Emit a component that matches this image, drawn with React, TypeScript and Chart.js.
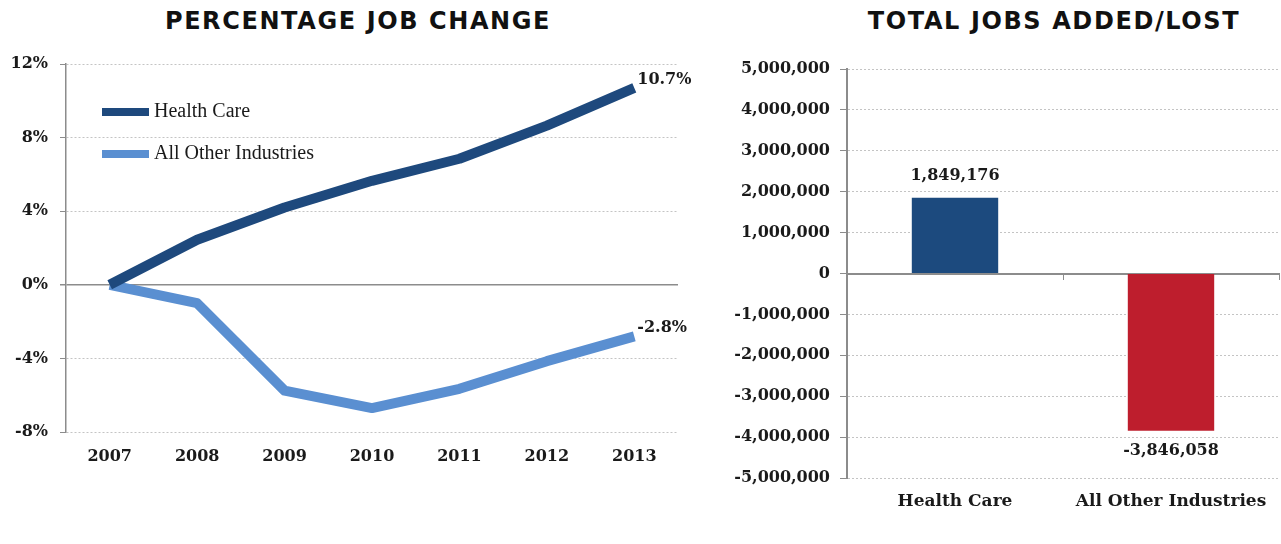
import React, { useEffect, useRef } from "react";
import { Chart, registerables } from "chart.js";

Chart.register(...registerables);

// ---------- data ----------
const years = ["2007", "2008", "2009", "2010", "2011", "2012", "2013"];
const seriesNames = ["Health Care", "All Other Industries"];
const healthCarePct = [0, 2.45, 4.2, 5.65, 6.85, 8.65, 10.7];
const otherIndustriesPct = [0, -1.0, -5.75, -6.7, -5.65, -4.15, -2.8];
const pctAxisMin = -8;
const pctAxisMax = 12;
const pctAxisStep = 4;

const barCategories = ["Health Care", "All Other Industries"];
const jobsAddedLost = [1849176, -3846058];
const jobsAxisMin = -5000000;
const jobsAxisMax = 5000000;
const jobsAxisStep = 1000000;

const titles = ["PERCENTAGE JOB CHANGE", "TOTAL JOBS ADDED/LOST"];

// ---------- styles ----------
const DARK_BLUE = "#1e497d";
const LIGHT_BLUE = "#5a8fd1";
const BAR_BLUE = "#1c4a7e";
const BAR_RED = "#be1e2d";
const TEXT = "#1a1a1a";
const AXIS_GRAY = "#8c8c8c";
const GRID_GRAY = "#c4c4c4";
const SERIF = "'DejaVu Serif', serif";
const LEGEND_SERIF = "'Liberation Serif', serif";

const lineDecor = {
  id: "lineDecor",
  afterDatasetsDraw(chart: any) {
    const { ctx, chartArea } = chart;
    ctx.save();
    // end-point labels
    chart.data.datasets.forEach((ds: any, i: number) => {
      const meta = chart.getDatasetMeta(i);
      const pt = meta.data[meta.data.length - 1];
      const v = ds.data[ds.data.length - 1];
      ctx.font = `bold 16px ${SERIF}`;
      ctx.fillStyle = TEXT;
      ctx.textAlign = "left";
      ctx.textBaseline = "middle";
      ctx.fillText(v.toFixed(1) + "%", pt.x + 3, pt.y - 8);
    });
    // legend inside plot
    chart.data.datasets.forEach((ds: any, i: number) => {
      const y = chartArea.top + 48 + i * 42;
      const x0 = chartArea.left + 36;
      ctx.strokeStyle = ds.borderColor;
      ctx.lineWidth = 8;
      ctx.lineCap = "butt";
      ctx.beginPath();
      ctx.moveTo(x0, y);
      ctx.lineTo(x0 + 47, y);
      ctx.stroke();
      ctx.font = `20px ${LEGEND_SERIF}`;
      ctx.fillStyle = TEXT;
      ctx.textAlign = "left";
      ctx.textBaseline = "middle";
      ctx.fillText(ds.label, x0 + 52, y);
    });
    ctx.restore();
  },
};

const barDecor = {
  id: "barDecor",
  afterDatasetsDraw(chart: any) {
    const { ctx } = chart;
    const meta = chart.getDatasetMeta(0);
    const values = chart.data.datasets[0].data;
    ctx.save();
    ctx.font = `bold 16px ${SERIF}`;
    ctx.fillStyle = TEXT;
    ctx.textAlign = "center";
    ctx.textBaseline = "middle";
    meta.data.forEach((bar: any, i: number) => {
      const v = values[i];
      const y = v >= 0 ? bar.y - 22 : bar.y + 20;
      ctx.fillText(v.toLocaleString("en-US"), bar.x, y);
    });
    ctx.restore();
  },
};

function LineChart() {
  const ref = useRef<HTMLCanvasElement>(null);
  useEffect(() => {
    const chart = new Chart(ref.current!, {
      type: "line",
      data: {
        labels: years,
        datasets: [
          {
            label: seriesNames[0],
            data: healthCarePct,
            borderColor: DARK_BLUE,
            backgroundColor: DARK_BLUE,
            borderWidth: 10,
            pointRadius: 0,
            tension: 0,
            borderJoinStyle: "round",
            borderCapStyle: "butt",
          },
          {
            label: seriesNames[1],
            data: otherIndustriesPct,
            borderColor: LIGHT_BLUE,
            backgroundColor: LIGHT_BLUE,
            borderWidth: 10,
            pointRadius: 0,
            tension: 0,
            borderJoinStyle: "round",
            borderCapStyle: "butt",
          },
        ],
      },
      options: {
        animation: false,
        responsive: true,
        maintainAspectRatio: false,
        layout: { padding: { top: 64, right: 22, bottom: 72, left: 0 } },
        plugins: { legend: { display: false }, tooltip: { enabled: false } },
        scales: {
          x: {
            offset: true,
            grid: { display: false, drawTicks: false, offset: true },
            border: { display: false },
            ticks: {
              font: { family: SERIF, size: 16, weight: "bold" },
              color: TEXT,
              padding: 15,
              maxRotation: 0,
            },
            afterFit: (s: any) => {
              s.height = 40;
            },
          },
          y: {
            min: pctAxisMin,
            max: pctAxisMax,
            ticks: {
              stepSize: pctAxisStep,
              callback: (v: any) => v + "%",
              font: { family: SERIF, size: 16, weight: "bold" },
              color: TEXT,
              padding: 12,
            },
            grid: {
              color: (c: any) => (c.tick && c.tick.value === 0 ? AXIS_GRAY : GRID_GRAY),
              lineWidth: (c: any) => (c.tick && c.tick.value === 0 ? 1.5 : 1),
              tickLength: 6,
              tickColor: AXIS_GRAY,
              tickBorderDash: [],
            },
            border: {
              display: true,
              color: AXIS_GRAY,
              width: 1.5,
              dash: (c: any) => (c.tick && c.tick.value === 0 ? [] : [2, 2]),
            },
            afterFit: (s: any) => {
              s.width = 66;
            },
          },
        },
      },
      plugins: [lineDecor],
    } as any);
    return () => chart.destroy();
  }, []);
  return (
    <div style={{ position: "absolute", left: 0, top: 0, width: 700, height: 544 }}>
      <canvas ref={ref} />
    </div>
  );
}

function BarChart() {
  const ref = useRef<HTMLCanvasElement>(null);
  useEffect(() => {
    const chart = new Chart(ref.current!, {
      type: "bar",
      data: {
        labels: barCategories,
        datasets: [
          {
            label: "Total jobs",
            data: jobsAddedLost,
            backgroundColor: [BAR_BLUE, BAR_RED],
            categoryPercentage: 1,
            barPercentage: 0.4,
          },
        ],
      },
      options: {
        animation: false,
        responsive: true,
        maintainAspectRatio: false,
        layout: { padding: { top: 69, right: 2, bottom: 26, left: 0 } },
        plugins: { legend: { display: false }, tooltip: { enabled: false } },
        scales: {
          x: {
            grid: { display: false, drawTicks: false },
            border: { display: false },
            ticks: {
              font: { family: SERIF, size: 17, weight: "bold" },
              color: TEXT,
              padding: 13,
              maxRotation: 0,
            },
            afterFit: (s: any) => {
              s.height = 40;
            },
          },
          x2: {
            type: "category",
            position: { y: 0 },
            offset: true,
            grid: {
              offset: true,
              drawOnChartArea: false,
              drawTicks: true,
              tickLength: 5,
              color: AXIS_GRAY,
              tickColor: AXIS_GRAY,
            },
            border: { display: true, color: AXIS_GRAY, width: 2 },
            ticks: { display: false },
          },
          y: {
            min: jobsAxisMin,
            max: jobsAxisMax,
            ticks: {
              stepSize: jobsAxisStep,
              callback: (v: any) => Number(v).toLocaleString("en-US"),
              font: { family: SERIF, size: 16, weight: "bold" },
              color: TEXT,
              padding: 10,
            },
            grid: {
              color: (c: any) => (c.tick && c.tick.value === 0 ? "rgba(0,0,0,0)" : GRID_GRAY),
              tickLength: 7,
              tickColor: AXIS_GRAY,
              tickBorderDash: [],
            },
            border: {
              display: true,
              color: AXIS_GRAY,
              width: 2,
              dash: [2, 2],
            },
            afterFit: (s: any) => {
              s.width = 147;
            },
          },
        },
      },
      plugins: [barDecor],
    } as any);
    return () => chart.destroy();
  }, []);
  return (
    <div style={{ position: "absolute", left: 700, top: 0, width: 581, height: 544 }}>
      <canvas ref={ref} />
    </div>
  );
}

const titleStyle: React.CSSProperties = {
  position: "absolute",
  top: 7,
  transform: "translateX(-50%)",
  whiteSpace: "nowrap",
  fontFamily: "'DejaVu Sans', sans-serif",
  fontWeight: 700,
  fontSize: 24,
  letterSpacing: 1.6,
  lineHeight: "28px",
  color: "#111",
};

export default function App() {
  return (
    <div
      style={{
        position: "absolute",
        left: 0,
        top: 0,
        width: 1281,
        height: 544,
        background: "#fff",
        overflow: "hidden",
      }}
    >
      <div style={{ ...titleStyle, left: 358 }}>{titles[0]}</div>
      <div style={{ ...titleStyle, left: 1054 }}>{titles[1]}</div>
      <LineChart />
      <BarChart />
    </div>
  );
}
